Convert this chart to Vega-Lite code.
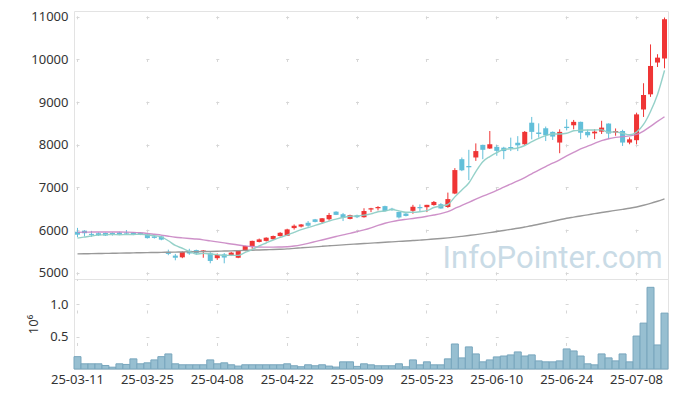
{
  "$schema": "https://vega.github.io/schema/vega-lite/v6.json",
  "padding": {"left": 5, "top": 10, "right": 10, "bottom": 5},
  "background": "#ffffff",
  "spacing": 0,
  "bounds": "flush",
  "config": {
    "view": {"stroke": "#e3e3e3"},
    "font": "Noto Sans",
    "axis": {"labelFont": "Noto Sans", "labelFontSize": 13, "labelColor": "#333333", "domain": false, "ticks": false, "gridColor": "#d6d6d6", "gridWidth": 1, "titleFont": "Noto Sans"}
  },
  "data": {"values": [
    {"d":"25-03-11","o":5960,"h":6050,"l":5830,"c":5890,"v":190000,"m5":5810,"m20":5945,"m60":5440},
    {"d":"25-03-12","o":5985,"h":5995,"l":5850,"c":5925,"v":80000,"m5":5835,"m20":5950,"m60":5443},
    {"d":"25-03-13","o":5910,"h":5980,"l":5840,"c":5885,"v":80000,"m5":5860,"m20":5952,"m60":5446},
    {"d":"25-03-14","o":5925,"h":5945,"l":5860,"c":5880,"v":80000,"m5":5880,"m20":5953,"m60":5449},
    {"d":"25-03-17","o":5930,"h":5940,"l":5860,"c":5870,"v":54000,"m5":5892,"m20":5954,"m60":5452},
    {"d":"25-03-18","o":5930,"h":5945,"l":5870,"c":5905,"v":28000,"m5":5895,"m20":5954,"m60":5455},
    {"d":"25-03-19","o":5940,"h":5960,"l":5880,"c":5895,"v":80000,"m5":5889,"m20":5953,"m60":5458},
    {"d":"25-03-20","o":5940,"h":6000,"l":5890,"c":5915,"v":70000,"m5":5894,"m20":5950,"m60":5461},
    {"d":"25-03-21","o":5940,"h":5950,"l":5880,"c":5890,"v":156000,"m5":5896,"m20":5945,"m60":5464},
    {"d":"25-03-24","o":5935,"h":5945,"l":5880,"c":5900,"v":80000,"m5":5902,"m20":5935,"m60":5467},
    {"d":"25-03-25","o":5900,"h":5920,"l":5800,"c":5810,"v":95000,"m5":5883,"m20":5920,"m60":5470},
    {"d":"25-03-26","o":5850,"h":5860,"l":5800,"c":5815,"v":140000,"m5":5867,"m20":5900,"m60":5473},
    {"d":"25-03-27","o":5850,"h":5870,"l":5760,"c":5775,"v":190000,"m5":5838,"m20":5880,"m60":5476},
    {"d":"25-03-28","o":5490,"h":5540,"l":5410,"c":5440,"v":232000,"m5":5748,"m20":5855,"m60":5479},
    {"d":"25-03-31","o":5400,"h":5440,"l":5290,"c":5350,"v":80000,"m5":5638,"m20":5832,"m60":5482},
    {"d":"25-04-01","o":5360,"h":5500,"l":5340,"c":5485,"v":65000,"m5":5573,"m20":5815,"m60":5486},
    {"d":"25-04-02","o":5515,"h":5560,"l":5420,"c":5450,"v":65000,"m5":5500,"m20":5800,"m60":5489},
    {"d":"25-04-03","o":5530,"h":5540,"l":5420,"c":5455,"v":65000,"m5":5436,"m20":5788,"m60":5492},
    {"d":"25-04-04","o":5495,"h":5530,"l":5350,"c":5520,"v":65000,"m5":5452,"m20":5770,"m60":5495},
    {"d":"25-04-07","o":5455,"h":5480,"l":5220,"c":5275,"v":140000,"m5":5437,"m20":5745,"m60":5498},
    {"d":"25-04-08","o":5340,"h":5450,"l":5300,"c":5415,"v":80000,"m5":5423,"m20":5722,"m60":5502},
    {"d":"25-04-09","o":5430,"h":5460,"l":5220,"c":5355,"v":95000,"m5":5404,"m20":5698,"m60":5507},
    {"d":"25-04-10","o":5415,"h":5490,"l":5390,"c":5470,"v":65000,"m5":5407,"m20":5672,"m60":5512},
    {"d":"25-04-11","o":5350,"h":5520,"l":5340,"c":5510,"v":45000,"m5":5405,"m20":5648,"m60":5517},
    {"d":"25-04-14","o":5510,"h":5630,"l":5500,"c":5625,"v":65000,"m5":5475,"m20":5628,"m60":5522},
    {"d":"25-04-15","o":5625,"h":5750,"l":5560,"c":5745,"v":65000,"m5":5541,"m20":5612,"m60":5527},
    {"d":"25-04-16","o":5720,"h":5800,"l":5710,"c":5780,"v":65000,"m5":5626,"m20":5602,"m60":5533},
    {"d":"25-04-17","o":5745,"h":5830,"l":5730,"c":5820,"v":65000,"m5":5696,"m20":5598,"m60":5538},
    {"d":"25-04-18","o":5785,"h":5870,"l":5770,"c":5860,"v":65000,"m5":5766,"m20":5598,"m60":5543},
    {"d":"25-04-21","o":5860,"h":5950,"l":5845,"c":5935,"v":65000,"m5":5828,"m20":5602,"m60":5549},
    {"d":"25-04-22","o":5865,"h":6030,"l":5860,"c":6015,"v":80000,"m5":5882,"m20":5608,"m60":5557},
    {"d":"25-04-23","o":6045,"h":6130,"l":6010,"c":6100,"v":50000,"m5":5946,"m20":5625,"m60":5570},
    {"d":"25-04-24","o":6080,"h":6140,"l":6060,"c":6130,"v":35000,"m5":6008,"m20":5652,"m60":5582},
    {"d":"25-04-25","o":6170,"h":6210,"l":6075,"c":6100,"v":65000,"m5":6056,"m20":5688,"m60":5594},
    {"d":"25-04-28","o":6250,"h":6260,"l":6180,"c":6190,"v":50000,"m5":6107,"m20":5727,"m60":5606},
    {"d":"25-04-29","o":6190,"h":6280,"l":6150,"c":6275,"v":65000,"m5":6159,"m20":5767,"m60":5618},
    {"d":"25-04-30","o":6255,"h":6400,"l":6220,"c":6350,"v":45000,"m5":6209,"m20":5807,"m60":5630},
    {"d":"25-05-02","o":6430,"h":6440,"l":6350,"c":6355,"v":30000,"m5":6254,"m20":5847,"m60":5641},
    {"d":"25-05-07","o":6370,"h":6400,"l":6210,"c":6290,"v":110000,"m5":6292,"m20":5886,"m60":5652},
    {"d":"25-05-08","o":6260,"h":6360,"l":6250,"c":6350,"v":110000,"m5":6324,"m20":5922,"m60":5663},
    {"d":"25-05-09","o":6345,"h":6360,"l":6280,"c":6300,"v":40000,"m5":6329,"m20":5962,"m60":5673},
    {"d":"25-05-12","o":6300,"h":6510,"l":6290,"c":6445,"v":80000,"m5":6348,"m20":6003,"m60":5683},
    {"d":"25-05-13","o":6480,"h":6520,"l":6420,"c":6510,"v":64000,"m5":6378,"m20":6052,"m60":5693},
    {"d":"25-05-14","o":6510,"h":6560,"l":6460,"c":6540,"v":50000,"m5":6428,"m20":6108,"m60":5703},
    {"d":"25-05-15","o":6560,"h":6570,"l":6430,"c":6445,"v":50000,"m5":6447,"m20":6158,"m60":5713},
    {"d":"25-05-16","o":6500,"h":6520,"l":6450,"c":6470,"v":50000,"m5":6480,"m20":6198,"m60":5723},
    {"d":"25-05-19","o":6425,"h":6430,"l":6270,"c":6295,"v":80000,"m5":6450,"m20":6228,"m60":5733},
    {"d":"25-05-20","o":6385,"h":6400,"l":6320,"c":6330,"v":34000,"m5":6415,"m20":6250,"m60":5743},
    {"d":"25-05-21","o":6450,"h":6590,"l":6380,"c":6545,"v":140000,"m5":6416,"m20":6270,"m60":5753},
    {"d":"25-05-22","o":6540,"h":6600,"l":6440,"c":6510,"v":64000,"m5":6429,"m20":6292,"m60":5764},
    {"d":"25-05-23","o":6535,"h":6590,"l":6420,"c":6590,"v":110000,"m5":6454,"m20":6322,"m60":5775},
    {"d":"25-05-26","o":6585,"h":6680,"l":6570,"c":6658,"v":64000,"m5":6527,"m20":6352,"m60":5788},
    {"d":"25-05-27","o":6605,"h":6630,"l":6500,"c":6505,"v":64000,"m5":6562,"m20":6385,"m60":5800},
    {"d":"25-05-28","o":6540,"h":6877,"l":6520,"c":6725,"v":156000,"m5":6598,"m20":6430,"m60":5815},
    {"d":"25-05-29","o":6855,"h":7450,"l":6840,"c":7405,"v":385000,"m5":6777,"m20":6505,"m60":5833},
    {"d":"25-05-30","o":7660,"h":7700,"l":7380,"c":7400,"v":171000,"m5":6939,"m20":6580,"m60":5852},
    {"d":"25-06-02","o":7500,"h":7880,"l":7170,"c":7470,"v":340000,"m5":7101,"m20":6650,"m60":5872},
    {"d":"25-06-04","o":7700,"h":8030,"l":7620,"c":7850,"v":232000,"m5":7370,"m20":6722,"m60":5893},
    {"d":"25-06-05","o":7995,"h":8000,"l":7660,"c":7880,"v":110000,"m5":7601,"m20":6792,"m60":5916},
    {"d":"25-06-09","o":7910,"h":8320,"l":7900,"c":8010,"v":140000,"m5":7722,"m20":6860,"m60":5940},
    {"d":"25-06-10","o":7950,"h":7990,"l":7740,"c":7855,"v":186000,"m5":7813,"m20":6930,"m60":5965},
    {"d":"25-06-11","o":7930,"h":7950,"l":7660,"c":7850,"v":200000,"m5":7889,"m20":7005,"m60":5990},
    {"d":"25-06-12","o":7945,"h":8165,"l":7850,"c":7915,"v":217000,"m5":7902,"m20":7078,"m60":6015},
    {"d":"25-06-13","o":8045,"h":8200,"l":7850,"c":7985,"v":263000,"m5":7923,"m20":7150,"m60":6040},
    {"d":"25-06-16","o":8010,"h":8320,"l":7990,"c":8300,"v":200000,"m5":7981,"m20":7230,"m60":6070},
    {"d":"25-06-17","o":8515,"h":8650,"l":8125,"c":8300,"v":217000,"m5":8070,"m20":7318,"m60":6100},
    {"d":"25-06-18","o":8285,"h":8500,"l":8165,"c":8250,"v":125000,"m5":8150,"m20":7405,"m60":6135},
    {"d":"25-06-19","o":8385,"h":8425,"l":8085,"c":8220,"v":110000,"m5":8211,"m20":7488,"m60":6170},
    {"d":"25-06-20","o":8300,"h":8310,"l":8110,"c":8190,"v":110000,"m5":8252,"m20":7565,"m60":6205},
    {"d":"25-06-23","o":8050,"h":8360,"l":7800,"c":8300,"v":125000,"m5":8252,"m20":7645,"m60":6240},
    {"d":"25-06-24","o":8420,"h":8595,"l":8335,"c":8390,"v":309000,"m5":8269,"m20":7735,"m60":6275},
    {"d":"25-06-25","o":8455,"h":8580,"l":8360,"c":8535,"v":278000,"m5":8326,"m20":7820,"m60":6302},
    {"d":"25-06-26","o":8535,"h":8540,"l":8130,"c":8280,"v":200000,"m5":8338,"m20":7900,"m60":6329},
    {"d":"25-06-27","o":8300,"h":8350,"l":8170,"c":8220,"v":80000,"m5":8344,"m20":7965,"m60":6356},
    {"d":"25-06-30","o":8265,"h":8360,"l":8130,"c":8305,"v":64000,"m5":8345,"m20":8030,"m60":6383},
    {"d":"25-07-01","o":8305,"h":8560,"l":8250,"c":8400,"v":232000,"m5":8348,"m20":8095,"m60":6410},
    {"d":"25-07-02","o":8495,"h":8500,"l":8130,"c":8260,"v":171000,"m5":8293,"m20":8140,"m60":6435},
    {"d":"25-07-03","o":8285,"h":8380,"l":8210,"c":8320,"v":125000,"m5":8301,"m20":8170,"m60":6460},
    {"d":"25-07-04","o":8320,"h":8350,"l":7970,"c":8050,"v":232000,"m5":8267,"m20":8190,"m60":6485},
    {"d":"25-07-07","o":8050,"h":8170,"l":8010,"c":8125,"v":110000,"m5":8231,"m20":8205,"m60":6510},
    {"d":"25-07-08","o":8105,"h":8750,"l":8010,"c":8710,"v":507000,"m5":8293,"m20":8240,"m60":6540},
    {"d":"25-07-09","o":8825,"h":9440,"l":8650,"c":9165,"v":706000,"m5":8474,"m20":8320,"m60":6580},
    {"d":"25-07-10","o":9180,"h":10350,"l":9120,"c":9845,"v":1257000,"m5":8779,"m20":8430,"m60":6625},
    {"d":"25-07-11","o":9925,"h":10120,"l":9820,"c":10040,"v":370000,"m5":9177,"m20":8545,"m60":6675},
    {"d":"25-07-14","o":10020,"h":10980,"l":9790,"c":10940,"v":860000,"m5":9740,"m20":8655,"m60":6730}
  ]},
  "vconcat": [
    {
      "width": 594,
      "height": 268,
      "encoding": {
        "x": {"field": "d", "type": "ordinal", "scale": {"type": "band", "paddingInner": 0, "paddingOuter": 0},
          "axis": {"values": ["25-03-11","25-03-25","25-04-08","25-04-22","25-05-09","25-05-23","25-06-10","25-06-24","25-07-08"],
            "labels": false, "title": null, "grid": true, "bandPosition": 0.5, "gridDash": [3, 39.668], "gridDashOffset": 37.853, "minExtent": 0, "maxExtent": 0}}
      },
      "layer": [
        {
          "data": {"values": [{"t": "InfoPointer.com"}]},
          "mark": {"type": "text", "font": "Roboto", "fontSize": 31, "color": "#c9dbe6", "align": "center", "baseline": "alphabetic"},
          "encoding": {"x": {"datum": "25-06-20"}, "y": {"datum": 5110, "type": "quantitative"}, "text": {"field": "t"}}
        },
        {
          "mark": {"type": "rule", "strokeWidth": 1},
          "encoding": {
            "y": {"field": "l", "type": "quantitative", "scale": {"domain": [4852, 11133], "nice": false, "zero": false},
              "axis": {"values": [5000,6000,7000,8000,9000,10000,11000], "format": "d", "title": null, "grid": true, "labelPadding": 6, "gridDash": [3, 66.88], "gridDashOffset": 67.89, "minExtent": 68, "maxExtent": 68}},
            "y2": {"field": "h"},
            "color": {"condition": {"test": "datum.c >= datum.o", "value": "#ef3535"}, "value": "#62bfd9"}
          }
        },
        {
          "mark": {"type": "bar", "width": {"band": 0.72}},
          "encoding": {
            "y": {"field": "o", "type": "quantitative"},
            "y2": {"field": "c"},
            "color": {"condition": {"test": "datum.c >= datum.o", "value": "#ef3535"}, "value": "#62bfd9"}
          }
        },
        {
          "mark": {"type": "line", "interpolate": "monotone", "strokeWidth": 1.4, "color": "#999999"},
          "encoding": {"y": {"field": "m60", "type": "quantitative"}}
        },
        {
          "mark": {"type": "line", "interpolate": "monotone", "strokeWidth": 1.4, "color": "#c985c3", "opacity": 0.9},
          "encoding": {"y": {"field": "m20", "type": "quantitative"}}
        },
        {
          "mark": {"type": "line", "interpolate": "monotone", "strokeWidth": 1.4, "color": "#8fcfc6", "opacity": 0.95},
          "encoding": {"y": {"field": "m5", "type": "quantitative"}}
        }
      ]
    },
    {
      "width": 594,
      "height": 90,
      "mark": {"type": "bar", "color": "#97bfd1", "stroke": "#78a6bd", "strokeWidth": 1},
      "encoding": {
        "x": {"field": "d", "type": "ordinal", "scale": {"type": "band", "paddingInner": 0, "paddingOuter": 0},
          "axis": {"values": ["25-03-11","25-03-25","25-04-08","25-04-22","25-05-09","25-05-23","25-06-10","25-06-24","25-07-08"],
            "labelAngle": 0, "labelPadding": 4, "title": null, "grid": true, "bandPosition": 0.5, "gridDash": [3, 29.49], "gridDashOffset": 1.5}},
        "y": {"field": "v", "type": "quantitative", "scale": {"domain": [0, 1385000], "nice": false},
          "axis": {"values": [500000, 1000000], "labelExpr": "format(datum.value / 1000000, '.1f')", "title": "10⁶", "titleX": -41, "titleY": 45, "titleAngle": -90, "titleAlign": "center", "titleBaseline": "middle", "titleFontSize": 13, "titleFontWeight": "normal", "titleColor": "#333333", "labelPadding": 6, "grid": true, "gridDash": [3, 66.88], "gridDashOffset": 67.89, "minExtent": 68, "maxExtent": 68}}
      }
    }
  ]
}
